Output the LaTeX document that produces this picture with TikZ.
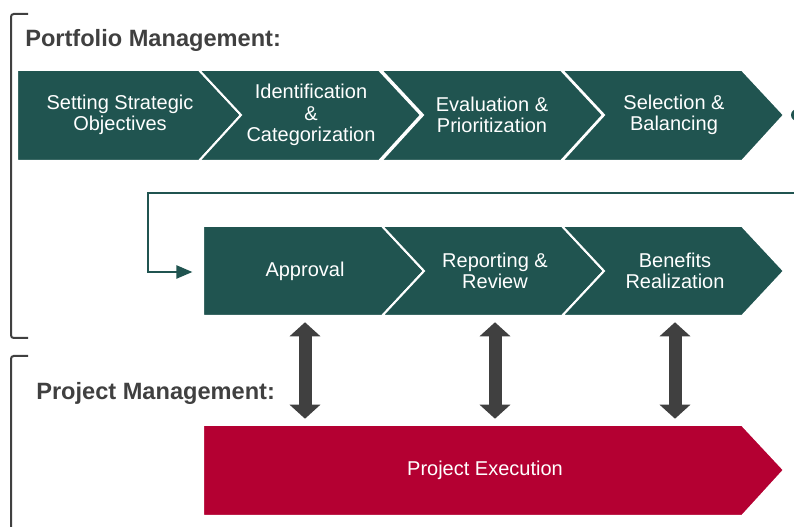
\documentclass[tikz,border=0pt]{standalone}
\usepackage{fontspec}
\setmainfont{Liberation Sans}
\usetikzlibrary{arrows.meta}

\definecolor{pmteal}{RGB}{32,84,80}
\definecolor{pmred}{RGB}{180,0,50}
\definecolor{pmgrey}{RGB}{64,64,64}

\tikzset{
  chev/.style={fill=#1, draw=white, line width=1.5pt},
  chev/.default=pmteal,
  steplabel/.style={text=white, align=center, font=\fontsize{15}{16}\selectfont,
    minimum width=135pt, minimum height=67.5pt, inner sep=0pt},
  heading/.style={text=pmgrey, font=\fontsize{17.7}{20}\selectfont\bfseries,
    inner sep=0pt, anchor=base west},
  bracket/.style={draw=pmgrey, line width=1.5pt, rounded corners=2pt},
  link/.style={draw=pmteal, line width=1.1pt, -{Triangle[length=12pt, width=10pt]}},
  biarrow/.style={draw=pmgrey, line width=9.75pt,
    {Triangle[length=10.5pt, width=22.5pt]}-{Triangle[length=10.5pt, width=22.5pt]},
    shorten <=4.5pt, shorten >=4.5pt}
}

\begin{document}
\begin{tikzpicture}[x=0.75pt, y=-0.75pt]
  \useasboundingbox (0,0) rectangle (794,527);
  \clip (0,0) rectangle (794,527);

  % brackets on the left
  \draw[bracket] (28,14) -- (11,14) -- (11,338) -- (28,338);
  \draw[bracket] (28,356) -- (11,356) -- (11,540);

  \node[heading] (pftitle) at (25,47) {Portfolio Management:};
  \node[heading] (pjtitle) at (36,400) {Project Management:};

  % first row of chevrons
  \filldraw[chev] (17,70) -- (199,70) -- (241,115) -- (199,161) -- (17,161) -- cycle;
  \foreach \x in {199,381,562}
    \filldraw[chev] (\x,70) -- (\x+180,70) -- (\x+222,115) -- (\x+180,161)
      -- (\x,161) -- (\x+42,115) -- cycle;

  % second row
  \filldraw[chev] (203,226) -- (382,226) -- (424,271) -- (382,316) -- (203,316) -- cycle;
  \foreach \x in {382,562}
    \filldraw[chev] (\x,226) -- (\x+180,226) -- (\x+222,271) -- (\x+180,316)
      -- (\x,316) -- (\x+42,271) -- cycle;

  % execution bar
  \filldraw[chev=pmred] (203,425) -- (742,425) -- (784,470) -- (742,516) -- (203,516) -- cycle;

  \node[steplabel] (setobj) at (120,115) {Setting Strategic\\Objectives};
  \node[steplabel] (identcat) at (311,115) {Identification\\\&\\Categorization};
  \node[steplabel] (evalprio) at (492,115) {Evaluation \&\\Prioritization};
  \node[steplabel] (selbal) at (674,115) {Selection \&\\Balancing};

  \node[steplabel] (approval) at (305,271) {Approval};
  \node[steplabel] (review) at (495,271) {Reporting \&\\Review};
  \node[steplabel] (benefits) at (675,271) {Benefits\\Realization};

  \node[steplabel] (execution) at (485,470) {Project Execution};

  % hand-off from the first row down to approval
  \node[circle, fill=pmteal, minimum size=9pt, inner sep=0pt] (handoff) at (797,115) {};
  \coordinate (apprin) at (203,272);
  \draw[link, shorten >=8pt] (handoff) -- (812,115) |- (148,193) |- (apprin);

  \foreach \n in {approval,review,benefits}
    \draw[biarrow] (\n.south) -- (\n.south |- execution.north);
\end{tikzpicture}
\end{document}
